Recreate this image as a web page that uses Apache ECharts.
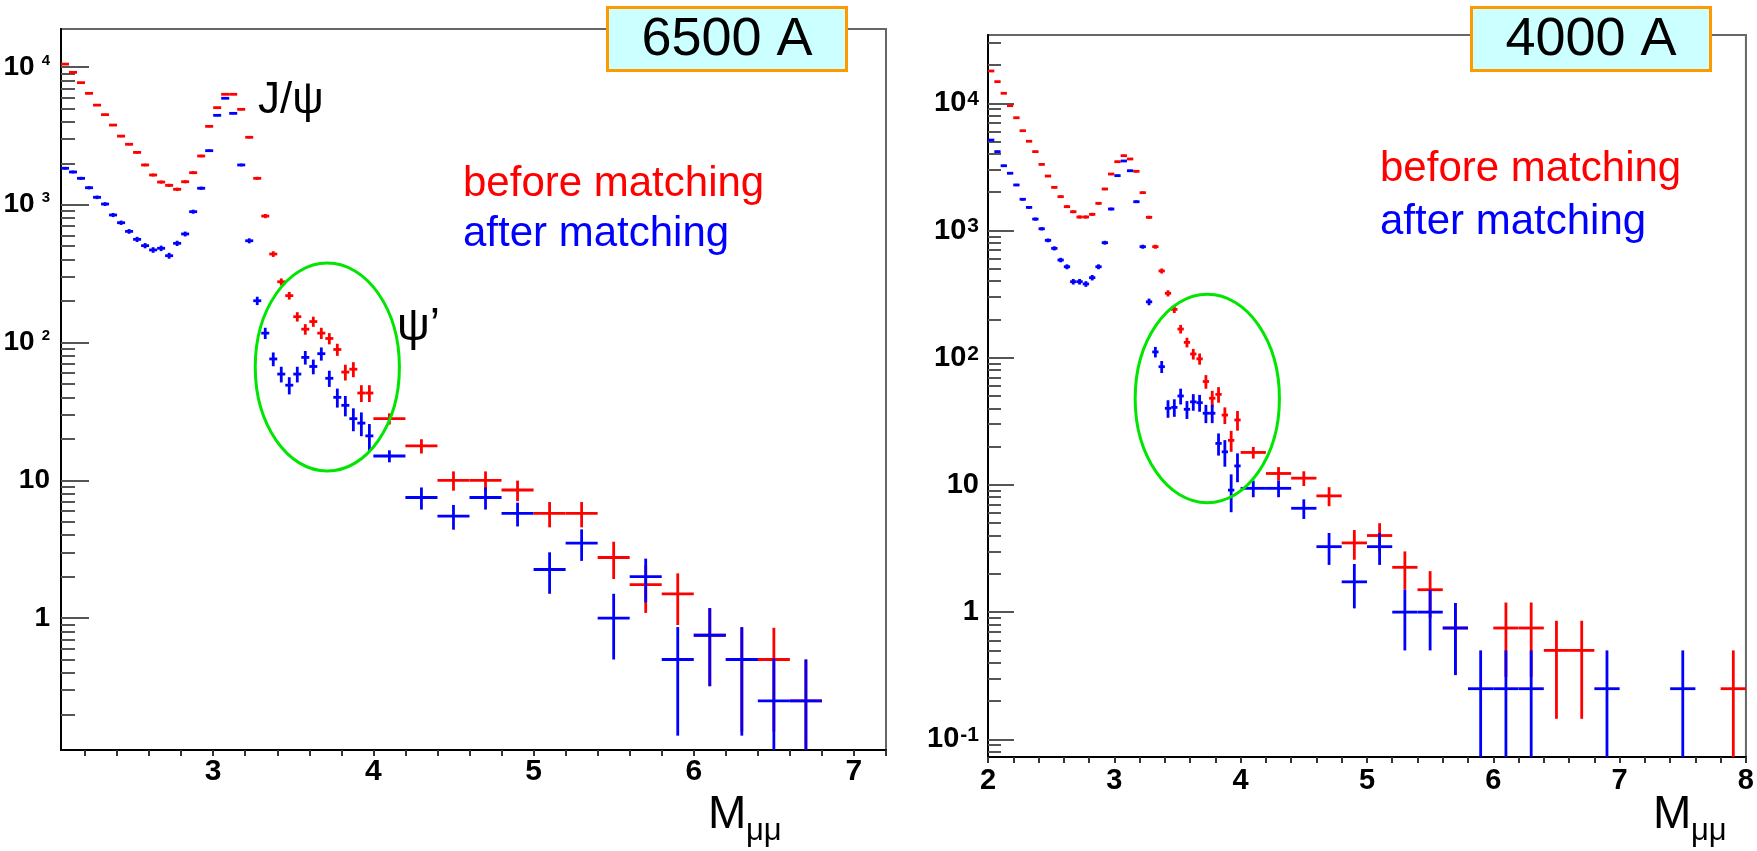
<!DOCTYPE html>
<html><head><meta charset="utf-8">
<script src="https://cdn.jsdelivr.net/npm/echarts@6/dist/echarts.min.js"></script>
<style>html,body{margin:0;padding:0;background:#fff}#c{width:1757px;height:851px}</style>
</head><body><div id="c"></div>
<script>
// ================= DATA: left panel (6500 A) =================
const leftX = [2.075,2.125,2.175,2.225,2.275,2.325,2.375,2.425,2.475,2.525,2.575,2.625,2.675,2.725,2.775,2.825,2.875,2.925,2.975,3.025,3.075,3.125,3.175,3.225,3.275,3.325,3.375,3.425,3.475,3.525,3.575,3.625,3.675,3.725,3.775,3.825,3.875,3.925,3.975,
  4.1,4.3,4.5,4.7,4.9,5.1,5.3,5.5,5.7,5.9,6.1,6.3,6.5,6.7];
const leftHalfWidth = [0.025,0.025,0.025,0.025,0.025,0.025,0.025,0.025,0.025,0.025,0.025,0.025,0.025,0.025,0.025,0.025,0.025,0.025,0.025,0.025,0.025,0.025,0.025,0.025,0.025,0.025,0.025,0.025,0.025,0.025,0.025,0.025,0.025,0.025,0.025,0.025,0.025,0.025,0.025,
  0.1,0.1,0.1,0.1,0.1,0.1,0.1,0.1,0.1,0.1,0.1,0.1,0.1,0.1];
const leftBefore = [10500,9150,7700,6440,5290,4510,3790,3150,2750,2400,1945,1645,1462,1384,1295,1470,1710,2260,3710,5070,6340,6340,4930,3090,1556,828,439,276,219,154,125,142,117,107,89,61,64,43,43,
  28,17.75,10,10,8.5,5.75,5.75,2.75,1.75,1.5,0.75,0.5,0.5,0.25];
const leftBeforeErr = [100,95,88,80,73,67,62,56,52,49,44,41,38,37,36,38,41,48,61,71,80,80,70,56,39,29,21,16,14,12,11,12,11,10,9,8,8,6,6,
  2.6,2.1,1.6,1.6,1.45,1.2,1.2,0.83,0.66,0.61,0.43,0.35,0.35,0.25];
const leftAfter = [1840,1730,1556,1330,1133,1012,843,741,641,561,505,470,483,427,525,614,891,1318,2470,4460,5930,4610,1945,548,201,117,76,59,49,59,78,67,83,55,40,35,28,26,21,
  15,7.5,5.5,7.5,5.75,2.25,3.5,1.0,2.0,0.5,0.75,0.5,0.25,0.25];
const leftAfterErr = [43,42,39,36,34,32,29,27,25,24,22,22,22,21,23,25,30,36,50,67,77,68,44,23,14,11,8.7,7.7,7,7.7,8.8,8.2,9.1,7.4,6.3,5.9,5.3,5.1,4.6,
  1.5,1.37,1.12,1.37,1.13,0.75,0.9,0.5,0.7,0.36,0.43,0.36,0.26,0.25];

// ================= DATA: right panel (4000 A) =================
const rightX = [2.025,2.075,2.125,2.175,2.225,2.275,2.325,2.375,2.425,2.475,2.525,2.575,2.625,2.675,2.725,2.775,2.825,2.875,2.925,2.975,3.025,3.075,3.125,3.175,3.225,3.275,3.325,3.375,3.425,3.475,3.525,3.575,3.625,3.675,3.725,3.775,3.825,3.875,3.925,3.975,
  4.1,4.3,4.5,4.7,4.9,5.1,5.3,5.5,5.7,5.9,6.1,6.3,6.5,6.7,6.9,7.1,7.3,7.5,7.7,7.9];
const rightHalfWidth = [0.025,0.025,0.025,0.025,0.025,0.025,0.025,0.025,0.025,0.025,0.025,0.025,0.025,0.025,0.025,0.025,0.025,0.025,0.025,0.025,0.025,0.025,0.025,0.025,0.025,0.025,0.025,0.025,0.025,0.025,0.025,0.025,0.025,0.025,0.025,0.025,0.025,0.025,0.025,0.025,
  0.1,0.1,0.1,0.1,0.1,0.1,0.1,0.1,0.1,0.1,0.1,0.1,0.1,0.1,0.1,0.1,0.1,0.1,0.1,0.1];
const rightBefore = [17950,14800,11990,9580,7700,6090,5030,4170,3310,2680,2185,1845,1540,1405,1277,1277,1340,1636,2120,2780,3475,3875,3650,2920,1983,1270,746,481,321,240,168,132,107,98,65,48,51.5,35.4,22.4,32.4,
  18,12.3,11.3,8.2,3.5,4.0,2.25,1.5,0.75,null,0.75,0.75,0.5,0.5,null,null,null,null,null,0.25];
const rightBeforeErr = [134,122,110,98,88,78,71,65,58,52,47,43,39,37,36,36,37,40,46,53,59,62,60,54,45,36,27,22,18,15.5,13,11.5,10.3,9.9,8,6.9,7.2,5.3,4.2,5.7,
  1.9,1.5,1.5,1.4,0.92,1.0,0.75,0.6,0.43,null,0.44,0.44,0.355,0.355,null,null,null,null,null,0.25];
const rightAfter = [5140,4170,3230,2820,2280,1760,1520,1230,1032,837,724,586,519,396,396,380,426,519,802,1476,2700,3520,2950,1684,746,275,111,85,40,40.7,50,39.3,45,44.3,36.6,36.6,21.2,18.2,9.1,14.1,
  9.4,9.4,6.55,3.27,1.73,3.27,1.0,1.0,0.75,0.25,0.25,0.25,null,null,0.25,null,null,0.25,null,null];
const rightAfterErr = [72,65,57,53,48,42,39,35,32,29,27,24,23,20,20,19.5,21,23,28,38,52,59,54,41,27,16.6,10.5,9.2,6.3,6.4,7.1,6.3,6.7,6.7,6,6,4.2,4.3,3,3.6,
  1.4,1.4,1.15,0.92,0.66,0.92,0.5,0.5,0.43,0.25,0.25,0.25,null,null,0.25,null,null,0.25,null,null];

// ================= AXES / TICK LABELS =================
const leftXLabels = [3,4,5,6,7];
const rightXLabels = [2,3,4,5,6,7,8];
const leftYDecades = [0,1,2,3,4];      // 1 .. 10^4
const rightYDecades = [-1,0,1,2,3,4];  // 10^-1 .. 10^4
const L_XMIN = 2.05, L_XMAX = 7.2, L_YMIN = -0.958, L_YMAX = 4.276;
const R_XMIN = 2.0, R_XMAX = 8.0, R_YMIN = -1.139, R_YMAX = 4.537;

const RED = '#ff0000', BLUE = '#0000ff';
const LABEL_FONT = '"Liberation Sans Narrow","Liberation Sans",Arial,sans-serif';
const TEXT_FONT = '"Liberation Sans",Arial,sans-serif';

function stepTicks(a, b, s) {
  const out = [];
  for (let v = Math.ceil(a / s - 1e-9) * s; v <= b + 1e-9; v += s) out.push(Math.round(v * 1000) / 1000);
  return out;
}
function minorLogTicks(lo, hi) {
  const out = [];
  for (let d = Math.floor(lo) - 1; d <= Math.ceil(hi); d++) {
    for (let m = 2; m <= 9; m++) {
      const v = d + Math.log10(m);
      if (v >= lo && v <= hi) out.push(v);
    }
  }
  return out;
}
function buildData(xs, hw, vals, errs) {
  const out = [];
  for (let i = 0; i < xs.length; i++) {
    if (vals[i] == null) continue;
    out.push([xs[i], Math.log10(vals[i]), hw[i], vals[i], errs[i]]);
  }
  return out;
}
function errRender(color, ymin, ymax) {
  return function (params, api) {
    const x = api.value(0), ly = api.value(1), h = api.value(2), v = api.value(3), e = api.value(4);
    const hi = Math.min(Math.log10(v + e), ymax);
    const lo = (v - e) > 0 ? Math.max(Math.log10(v - e), ymin) : ymin;
    const a = api.coord([x - h, ly]), b = api.coord([x + h, ly]);
    const t = api.coord([x, hi]), d = api.coord([x, lo]);
    const st = { stroke: color, lineWidth: 2.8, lineCap: 'butt' };
    return { type: 'group', children: [
      { type: 'line', shape: { x1: a[0], y1: a[1], x2: b[0], y2: b[1] }, style: st },
      { type: 'line', shape: { x1: t[0], y1: t[1], x2: d[0], y2: d[1] }, style: st }
    ]};
  };
}
function yFormatter(v) {
  const n = Math.round(v);
  if (n === 0) return '{b|1}';
  if (n === 1) return '{b|10}';
  return '{b|10}{s|' + n + '}';
}
function xAxisCfg(grid, min, max, labels, fontSize, margin) {
  return {
    gridIndex: grid, type: 'value', min: min, max: max, position: 'bottom',
    axisLine: { show: true, onZero: false, lineStyle: { color: '#000', width: 2 } },
    axisTick: { show: true, inside: false, length: 6, customValues: stepTicks(min, max, 0.2), lineStyle: { color: '#333', width: 2 } },
    axisLabel: { customValues: labels, margin: margin, fontFamily: LABEL_FONT, fontWeight: 'bold', fontSize: fontSize, color: '#000' },
    splitLine: { show: false }
  };
}
function yAxisMain(grid, min, max, decades, rich, margin) {
  return {
    gridIndex: grid, type: 'value', min: min, max: max, position: 'left',
    axisLine: { show: true, onZero: false, lineStyle: { color: '#000', width: 2 } },
    axisTick: { show: true, inside: true, length: grid === 0 ? 28 : 26, customValues: decades, lineStyle: { color: '#555', width: 2 } },
    axisLabel: { customValues: decades, margin: margin, formatter: yFormatter, rich: rich },
    splitLine: { show: false }
  };
}
function yAxisMinor(grid, min, max) {
  return {
    gridIndex: grid, type: 'value', min: min, max: max, position: 'left',
    axisLine: { show: false },
    axisTick: { show: true, inside: true, length: grid === 0 ? 14 : 13, customValues: minorLogTicks(min, max), lineStyle: { color: '#555', width: 2 } },
    axisLabel: { show: false },
    splitLine: { show: false }
  };
}
const richLeft = {
  b: { fontFamily: LABEL_FONT, fontWeight: 'bold', fontSize: 28, lineHeight: 28, padding: [4, 0, 4, 0], color: '#000' },
  s: { fontFamily: LABEL_FONT, fontWeight: 'bold', fontSize: 15, lineHeight: 15, padding: [0, 0, 0, 7], verticalAlign: 'top', color: '#000' }
};
const richRight = {
  b: { fontFamily: LABEL_FONT, fontWeight: 'bold', fontSize: 29, lineHeight: 29, padding: [5, 0, 5, 0], color: '#000' },
  s: { fontFamily: LABEL_FONT, fontWeight: 'bold', fontSize: 21, lineHeight: 21, padding: [0, 0, 0, 1], verticalAlign: 'top', color: '#000' }
};

const chart = echarts.init(document.getElementById('c'), null, { renderer: 'canvas' });
const option = {
  animation: false,
  backgroundColor: '#ffffff',
  grid: [
    { left: 61, top: 29, width: 825, height: 721, show: true, borderColor: '#666', borderWidth: 2, backgroundColor: 'transparent' },
    { left: 988, top: 35, width: 759, height: 722, show: true, borderColor: '#666', borderWidth: 2, backgroundColor: 'transparent' }
  ],
  xAxis: [
    xAxisCfg(0, L_XMIN, L_XMAX, leftXLabels, 30, 7),
    xAxisCfg(1, R_XMIN, R_XMAX, rightXLabels, 29, 9)
  ],
  yAxis: [
    yAxisMain(0, L_YMIN, L_YMAX, leftYDecades, richLeft, 11),
    yAxisMinor(0, L_YMIN, L_YMAX),
    yAxisMain(1, R_YMIN, R_YMAX, rightYDecades, richRight, 9),
    yAxisMinor(1, R_YMIN, R_YMAX)
  ],
  series: [
    { type: 'custom', name: 'before matching (6500 A)', xAxisIndex: 0, yAxisIndex: 0, clip: true,
      encode: { x: 0, y: 1 }, renderItem: errRender(RED, L_YMIN, L_YMAX), data: buildData(leftX, leftHalfWidth, leftBefore, leftBeforeErr), z: 3 },
    { type: 'custom', name: 'after matching (6500 A)', xAxisIndex: 0, yAxisIndex: 0, clip: true,
      encode: { x: 0, y: 1 }, renderItem: errRender(BLUE, L_YMIN, L_YMAX), data: buildData(leftX, leftHalfWidth, leftAfter, leftAfterErr), z: 4 },
    { type: 'custom', name: 'before matching (4000 A)', xAxisIndex: 1, yAxisIndex: 2, clip: true,
      encode: { x: 0, y: 1 }, renderItem: errRender(RED, R_YMIN, R_YMAX), data: buildData(rightX, rightHalfWidth, rightBefore, rightBeforeErr), z: 3 },
    { type: 'custom', name: 'after matching (4000 A)', xAxisIndex: 1, yAxisIndex: 2, clip: true,
      encode: { x: 0, y: 1 }, renderItem: errRender(BLUE, R_YMIN, R_YMAX), data: buildData(rightX, rightHalfWidth, rightAfter, rightAfterErr), z: 4 }
  ]
};
chart.setOption(option);

// ================= ANNOTATIONS =================
// psi' regions (centre in data coords, half-extent in x units / decades)
const psiRegions = [
  { grid: 0, x: 3.7125, logY: 1.822, dx: 0.45, dLog: 0.755 },
  { grid: 1, x: 3.736, logY: 1.679, dx: 0.571, dLog: 0.819 }
];
const graphics = [];
psiRegions.forEach(function (r) {
  const c = chart.convertToPixel({ gridIndex: r.grid }, [r.x, r.logY]);
  const e = chart.convertToPixel({ gridIndex: r.grid }, [r.x + r.dx, r.logY + r.dLog]);
  graphics.push({ type: 'ellipse', z: 50, shape: { cx: c[0], cy: c[1], rx: Math.abs(e[0] - c[0]), ry: Math.abs(c[1] - e[1]) },
    style: { fill: 'none', stroke: '#00e600', lineWidth: 3 } });
});
function txt(s, x, y, size, color, align) {
  return { type: 'text', z: 60, x: x, y: y,
    style: { text: s, fontFamily: TEXT_FONT, fontSize: size, fill: color, align: align || 'left', verticalAlign: 'middle' } };
}
// labelled boxes
graphics.push({ type: 'rect', z: 55, shape: { x: 607.5, y: 7.5, width: 239, height: 63 }, style: { fill: '#ccffff', stroke: '#ff9900', lineWidth: 3 } });
graphics.push(txt('6500 A', 727, 40, 54, '#000', 'center'));
graphics.push({ type: 'rect', z: 55, shape: { x: 1471.5, y: 7.5, width: 239, height: 63 }, style: { fill: '#ccffff', stroke: '#ff9900', lineWidth: 3 } });
graphics.push(txt('4000 A', 1591, 40, 54, '#000', 'center'));
// peak labels
graphics.push(txt('J/ψ', 258, 101, 44, '#000'));
graphics.push(txt('ψ’', 397, 327, 46, '#000'));
// legends
graphics.push(txt('before matching', 463, 184, 42, RED));
graphics.push(txt('after matching', 463, 234, 42, BLUE));
graphics.push(txt('before matching', 1380, 169, 42, RED));
graphics.push(txt('after matching', 1380, 222, 42, BLUE));
// axis titles
graphics.push(txt('M', 708, 815, 46, '#000'));
graphics.push(txt('μμ', 746, 831, 31, '#000'));
graphics.push(txt('M', 1653, 815, 46, '#000'));
graphics.push(txt('μμ', 1691, 831, 31, '#000'));
chart.setOption({ graphic: graphics });
</script>
</body></html>
